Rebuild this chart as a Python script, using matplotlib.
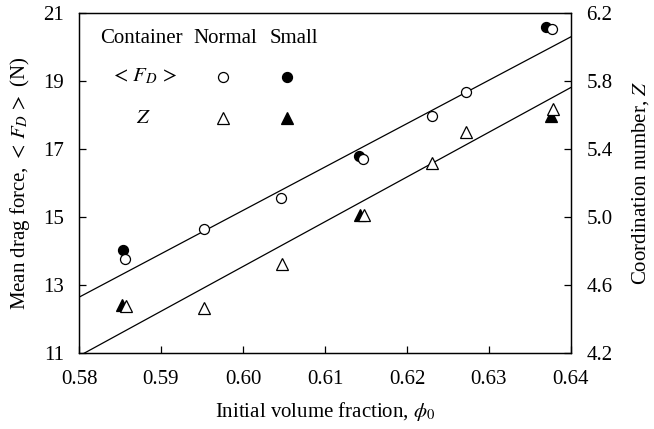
import matplotlib
matplotlib.use("Agg")
import matplotlib.pyplot as plt

# mean drag force <F_D> vs initial volume fraction
phi_fd_normal = [0.5856, 0.5953, 0.6046, 0.6146, 0.6230, 0.6272, 0.6377]
fd_normal = [13.77, 14.65, 15.55, 16.70, 17.97, 18.69, 20.53]
phi_fd_small = [0.5854, 0.6141, 0.6370]
fd_small = [14.02, 16.79, 20.58]

# coordination number Z vs initial volume fraction
phi_z_normal = [0.5857, 0.5953, 0.6047, 0.6147, 0.6230, 0.6272, 0.6378]
z_normal = [4.476, 4.466, 4.722, 5.012, 5.316, 5.50, 5.635]
phi_z_small = [0.5852, 0.6143, 0.6376]
z_small = [4.48, 5.012, 5.594]

# linear fits (end points)
fit_phi = [0.58, 0.64]
fit_fd = [12.64, 20.30]
fit_z = [4.182, 5.762]

plt.rcParams['font.family'] = ['Liberation Serif', 'DejaVu Serif']
plt.rcParams['mathtext.fontset'] = 'stix'
plt.rcParams['font.size'] = 15

fig = plt.figure(figsize=(6.54, 4.29), dpi=100)
ax = fig.add_axes([0.1208, 0.1772, 0.7522, 0.7925])
ax2 = ax.twinx()

ms = 7.2
ax.plot(fit_phi, fit_fd, color='black', lw=0.9)
ax.plot(phi_fd_small, fd_small, 'o', ms=ms, mfc='black', mec='black', mew=0.9)
ax.plot(phi_fd_normal, fd_normal, 'o', ms=ms, mfc='white', mec='black', mew=0.9)

ax2.plot(fit_phi, fit_z, color='black', lw=0.9)
ax2.plot(phi_z_small, z_small, '^', ms=ms + 1, mfc='black', mec='black', mew=0.9)
ax2.plot(phi_z_normal, z_normal, '^', ms=ms + 1, mfc='white', mec='black', mew=0.9)

ax.set_xlim(0.58, 0.64)
ax.set_ylim(11, 21)
ax2.set_ylim(4.2, 6.2)
ax.set_xticks([0.58, 0.59, 0.60, 0.61, 0.62, 0.63, 0.64])
ax.set_xticklabels(['0.58', '0.59', '0.60', '0.61', '0.62', '0.63', '0.64'])
ax.set_yticks([11, 13, 15, 17, 19, 21])
ax2.set_yticks([4.2, 4.6, 5.0, 5.4, 5.8, 6.2])
ax2.set_yticklabels(['4.2', '4.6', '5.0', '5.4', '5.8', '6.2'])

ax.tick_params(axis='x', direction='in', length=5, width=0.9, pad=12)
ax.tick_params(axis='y', direction='in', length=5, width=0.9, pad=11)
ax2.tick_params(axis='y', direction='in', length=5, width=0.9, pad=11)
for a in (ax, ax2):
    for s in a.spines.values():
        s.set_linewidth(0.9)

ax.set_xlabel(r'Initial volume fraction, $\phi_0$', labelpad=8)
ax.set_ylabel(r'Mean drag force, $<\,F_D\,>$ (N)', labelpad=8)
ax2.set_ylabel(r'Coordination number, $Z$', labelpad=13)

# table-like legend
tr = ax.transAxes
ax.text(0.126, 0.924, 'Container', transform=tr, ha='center', va='center')
ax.text(0.298, 0.924, 'Normal', transform=tr, ha='center', va='center')
ax.text(0.437, 0.924, 'Small', transform=tr, ha='center', va='center')
ax.text(0.132, 0.812, r'$<\,F_D\,>$', transform=tr, ha='center', va='center')
ax.text(0.130, 0.691, r'$Z$', transform=tr, ha='center', va='center')
ax.plot([0.293], [0.812], 'o', ms=ms, mfc='white', mec='black', mew=0.9, transform=tr, clip_on=False)
ax.plot([0.423], [0.812], 'o', ms=ms, mfc='black', mec='black', mew=0.9, transform=tr, clip_on=False)
ax.plot([0.293], [0.691], '^', ms=ms + 1, mfc='white', mec='black', mew=0.9, transform=tr, clip_on=False)
ax.plot([0.423], [0.691], '^', ms=ms + 1, mfc='black', mec='black', mew=0.9, transform=tr, clip_on=False)

fig.savefig('out.png', dpi=100)
